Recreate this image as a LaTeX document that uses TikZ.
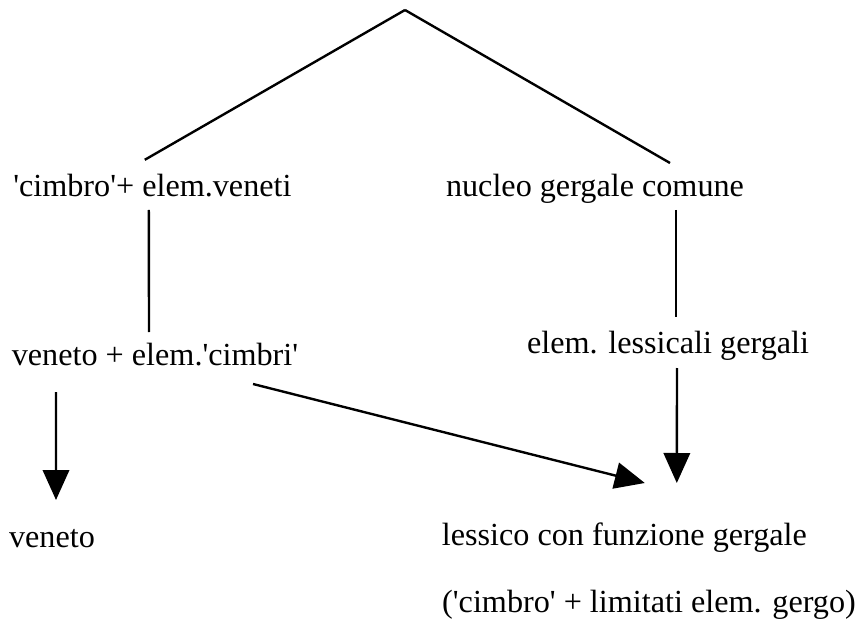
\documentclass[tikz,border=0pt]{standalone}
\usepackage{fontspec}
\setmainfont{Liberation Serif}
\usetikzlibrary{arrows.meta}
\newcommand{\sq}{\textquotesingle}
\begin{document}
\begin{tikzpicture}
	\tikzstyle{term}=[font=\fontsize{22.9}{27}\selectfont, inner sep=0pt, anchor=base]
	\tikzstyle{tie}=[draw, line width=1.7pt]
	\tikzstyle{flow}=[draw, line width=1.7pt, -{Triangle[length=0.75cm,width=0.66cm]}]
	\useasboundingbox (0,0) rectangle (21.45,15.55);
	\begin{scope}
		\coordinate (top) at (10.125,15.3);
		\node [term] (cimbro) at (3.81,10.625) {\sq cimbro\sq+ elem.veneti};
		\node [term] (nucleo) at (14.875,10.625) {nucleo gergale comune};
		\node [term] (venetocimbri) at (3.875,6.425) {veneto + elem.\sq cimbri\sq};
		\node [term] (lessicali) at (16.7,6.725) {elem. lessicali gergali};
		\node [term] (veneto) at (1.3,1.875) {veneto};
		\node [term] (lessico) at (15.61,1.925) {lessico con funzione gergale};
		\node [term] (limitati) at (16.225,0.25) {(\sq cimbro\sq{} + limitati elem. gergo)};
		\path[tie] (top) edge ([shift={(-0.19,0.93)}]cimbro.base);
		\path[tie] (top) edge ([shift={(1.875,0.85)}]nucleo.base);
		\path[tie] ([shift={(-0.09,-0.325)}]cimbro.base) edge ([shift={(-0.15,0.825)}]venetocimbri.base);
		\path[tie] ([shift={(2.025,-0.325)}]nucleo.base) edge ([shift={(0.2,0.9)}]lessicali.base);
		\path[flow] ([shift={(-2.475,-0.675)}]venetocimbri.base) -- ([shift={(0.1,1.175)}]veneto.base);
		\path[flow] ([shift={(2.45,-0.475)}]venetocimbri.base) -- ([shift={(0.51,1.55)}]lessico.base);
		\path[flow] ([shift={(0.225,-0.375)}]lessicali.base) -- ([shift={(1.31,1.55)}]lessico.base);
	\end{scope}
\end{tikzpicture}
\end{document}
